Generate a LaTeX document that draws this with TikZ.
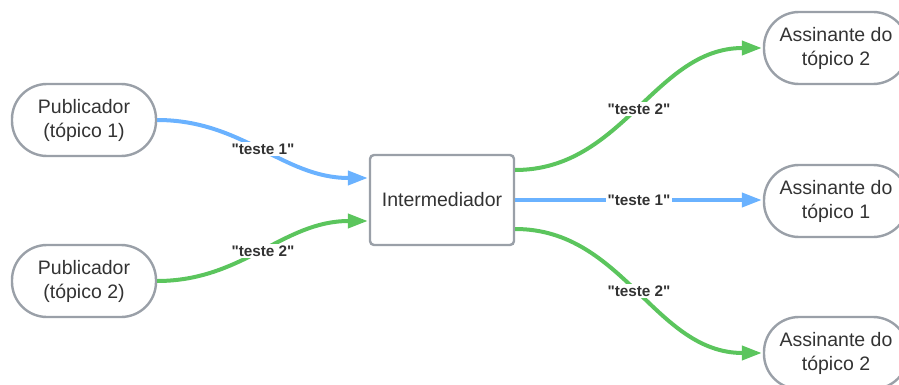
\documentclass[tikz,border=0pt]{standalone}
\usepackage{fontspec}
\setmainfont{Liberation Sans}
\usetikzlibrary{arrows.meta}
\definecolor{edgeblue}{HTML}{6AB2FF}
\definecolor{edgegreen}{HTML}{5BC55D}
\definecolor{bordergray}{HTML}{9AA0A8}
\definecolor{textgray}{HTML}{333333}
\newcommand{\quoted}[1]{\textquotedbl#1\textquotedbl}
\tikzset{
  pill/.style={draw=bordergray, line width=2.4pt, rounded corners=35pt,
    minimum width=144pt, minimum height=72pt, inner sep=0pt,
    align=center, text=textgray, font=\fontsize{19.5}{24}\selectfont},
  broker/.style={draw=bordergray, line width=2.4pt, rounded corners=4pt,
    minimum width=144pt, minimum height=90pt, inner sep=0pt,
    text=textgray, font=\fontsize{19.5}{24}\selectfont},
  flow/.style={line width=4pt, -{Triangle[length=20pt,width=14pt]},
    shorten >=1pt},
  blueflow/.style={flow, draw=edgeblue, color=edgeblue},
  greenflow/.style={flow, draw=edgegreen, color=edgegreen},
  msg/.style={fill=white, inner sep=1.5pt, text=textgray,
    font=\fontsize{15.3}{18}\selectfont\bfseries}
}
\begin{document}
\begin{tikzpicture}[x=1pt, y=-1pt]
\useasboundingbox (0,0) rectangle (899,385);

% publishers
\node[pill] (pub1) at (84,120) {Publicador\\(tópico 1)};
\node[pill] (pub2) at (84,281) {Publicador\\(tópico 2)};

% broker
\node[broker] (broker) at (442,200) {Intermediador};

% subscribers
\node[pill] (sub2a) at (836,48)  {Assinante do\\tópico 2};
\node[pill] (sub1)  at (836,201) {Assinante do\\tópico 1};
\node[pill] (sub2b) at (836,353) {Assinante do\\tópico 2};

% publishers to broker
\draw[blueflow] (pub1.east) to[out=0, in=180]
  node[msg] {\quoted{teste 1}} ([yshift=22pt]broker.west);
\draw[greenflow] (pub2.east) to[out=0, in=180]
  node[msg] {\quoted{teste 2}} ([yshift=-21pt]broker.west);

% broker to subscribers
\draw[greenflow] ([yshift=30pt]broker.east) to[out=0, in=180]
  node[msg] {\quoted{teste 2}} (sub2a.west);
\draw[blueflow] (broker.east) --
  node[msg] {\quoted{teste 1}} (broker.east -| sub1.west);
\draw[greenflow] ([yshift=-29pt]broker.east) to[out=0, in=180]
  node[msg] {\quoted{teste 2}} (sub2b.west);
\end{tikzpicture}
\end{document}
